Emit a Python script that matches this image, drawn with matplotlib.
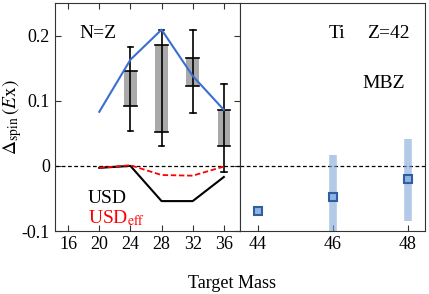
import numpy as np
import matplotlib.pyplot as plt

plt.rcParams['font.family'] = ['Liberation Serif', 'DejaVu Serif']
plt.rcParams['mathtext.fontset'] = 'stix'

# N=Z panel data
mass_nz = [20, 24, 28, 32, 36]
theory_blue = [0.083, 0.163, 0.209, 0.138, 0.086]
usd = [-0.003, 0.0, -0.054, -0.054, -0.017]
usd_eff = [-0.003, 0.001, -0.014, -0.015, -0.001]

exp_mass = [24, 28, 32, 36]
box_lo = [0.092, 0.052, 0.123, 0.031]
box_hi = [0.145, 0.186, 0.166, 0.086]
err_lo = [0.054, 0.031, 0.081, -0.010]
err_hi = [0.183, 0.209, 0.209, 0.126]

# Ti panel data
mass_ti = [44, 46, 48]
ti_val = [-0.069, -0.048, -0.020]
ti_lo = [None, -0.11, -0.085]
ti_hi = [None, 0.016, 0.041]

fig = plt.figure(figsize=(4.29, 2.94), dpi=100)
ax1 = fig.add_axes([0.128, 0.214, 0.431, 0.776])
ax2 = fig.add_axes([0.559, 0.214, 0.431, 0.776])

for ax in (ax1, ax2):
    ax.axhline(0, color='black', ls='--', lw=0.9, dashes=(3, 2))
    ax.set_ylim(-0.1, 0.25)
    ax.tick_params(direction='in', labelsize=13, length=4, color='#333333')
    for sp in ax.spines.values():
        sp.set_color('#333333')

# left panel
for m, lo, hi, elo, ehi in zip(exp_mass, box_lo, box_hi, err_lo, err_hi):
    ax1.bar(m, hi - lo, bottom=lo, width=1.6, color='#a9a9a9', zorder=2)
    ax1.plot([m, m], [elo, ehi], color='black', lw=1.2, zorder=3)
    for yy in (lo, hi):
        ax1.plot([m - 0.8, m + 0.8], [yy, yy], color='black', lw=1.2, zorder=3)
    for yy in (elo, ehi):
        ax1.plot([m - 0.37, m + 0.37], [yy, yy], color='black', lw=1.2, zorder=3)

ax1.plot(mass_nz, theory_blue, color='#3a6fd0', lw=1.5, zorder=4)
ax1.plot(mass_nz, usd, color='black', lw=1.5, zorder=4)
ax1.plot(mass_nz, usd_eff, color='red', lw=1.3, ls='--', dashes=(3, 1.5), zorder=4)

ax1.set_xlim(14.3, 38.05)
ax1.set_xticks([16, 20, 24, 28, 32, 36])
ax1.set_yticks([-0.1, 0, 0.1, 0.2])
ax1.set_yticklabels(['-0.1', '0', '0.1', '0.2'])
ax1.tick_params(top=True, right=True)
ax1.set_ylabel(r'$\Delta_{\rm spin}\,(E\mathrm{x})$', fontsize=14)
ax1.yaxis.set_label_coords(-0.165, 0.5)
ax1.text(0.13, 0.868, 'N=Z', transform=ax1.transAxes, fontsize=14, va='center')
ax1.text(0.178, 0.123, 'USD', transform=ax1.transAxes, fontsize=14, va='baseline')
ax1.text(0.178, 0.035, r'USD$_{\rm eff}$', transform=ax1.transAxes, fontsize=14,
         color='red', va='baseline')

# right panel
for m, lo, hi in zip(mass_ti, ti_lo, ti_hi):
    if lo is not None:
        ax2.plot([m, m], [lo, hi], color='#7fa7d8', lw=5.5, alpha=0.6, solid_capstyle='butt', zorder=2)
ax2.plot(mass_ti, ti_val, ls='none', marker='s', ms=5.5, mfc='#8fb4e3', mec='#2f5f9f', mew=1.5, zorder=3)

ax2.set_xlim(43.52, 48.45)
ax2.set_xticks(mass_ti)
ax2.set_yticks([])
ax2.text(0.48, 0.868, 'Ti', transform=ax2.transAxes, fontsize=14, va='center')
ax2.text(0.686, 0.868, 'Z=42', transform=ax2.transAxes, fontsize=14, va='center')
ax2.text(0.665, 0.649, 'MBZ', transform=ax2.transAxes, fontsize=14, va='center')

fig.text(0.541, 0.02, 'Target Mass', ha='center', va='baseline', fontsize=13)

fig.savefig('out.png', dpi=100)
